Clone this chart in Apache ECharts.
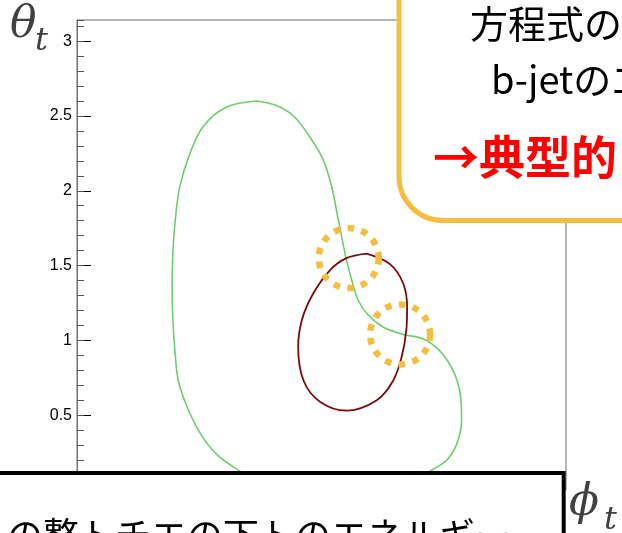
<!DOCTYPE html>
<html>
<head>
<meta charset="utf-8">
<script src="https://cdn.jsdelivr.net/npm/echarts@6.0.0/dist/echarts.min.js"></script>
<style>
  html, body { margin: 0; padding: 0; background: #ffffff; }
  #main { width: 622px; height: 533px; }
</style>
</head>
<body>
<div id="main"></div>
<script>
// theta axis tick labels (radians)
const thetaTickValues = [0, 0.5, 1, 1.5, 2, 2.5, 3];
const thetaTickLabels = ['0', '0.5', '1', '1.5', '2', '2.5', '3'];

// solution contour A (green): [phi_t, theta_t], closed loop
const contourA = [
  [-0.83, 2.60], [-0.58, 2.57], [-0.36, 2.50], [-0.15, 2.36], [0.02, 2.21],
  [0.13, 2.03], [0.20, 1.85], [0.26, 1.69], [0.32, 1.54], [0.39, 1.40],
  [0.47, 1.27], [0.60, 1.17], [0.79, 1.09], [1.05, 1.04], [1.31, 1.01],
  [1.52, 0.93], [1.69, 0.80], [1.78, 0.65], [1.80, 0.47], [1.74, 0.31],
  [1.61, 0.20], [1.44, 0.14], [1.15, 0.06], [0.60, 0.02], [-0.50, 0.02],
  [-0.85, 0.07], [-1.09, 0.14], [-1.35, 0.24], [-1.56, 0.38], [-1.73, 0.56],
  [-1.84, 0.73], [-1.88, 0.91], [-1.91, 1.14], [-1.92, 1.36], [-1.91, 1.58],
  [-1.88, 1.80], [-1.82, 2.03], [-1.69, 2.25], [-1.52, 2.43], [-1.22, 2.56],
  [-0.83, 2.60]
];

// solution contour B (dark red): [phi_t, theta_t], closed loop
const contourB = [
  [0.58, 1.58], [0.88, 1.51], [1.05, 1.38], [1.10, 1.22], [1.09, 1.07],
  [1.03, 0.89], [0.92, 0.73], [0.71, 0.60], [0.32, 0.53], [-0.02, 0.59],
  [-0.23, 0.73], [-0.30, 0.96], [-0.25, 1.14], [-0.11, 1.31], [0.11, 1.47],
  [0.32, 1.55], [0.58, 1.58]
];

// intersection points of the two contours, highlighted with dotted rings
const crossings = [[0.35, 1.55], [1.01, 1.04]];

// slide text
const noteLines = ['方程式の解', 'b-jetのエ', '→典型的'];
const footerText = 'の整トチエの下トのエネルギー';

const chart = echarts.init(document.getElementById('main'), null, { renderer: 'canvas' });

const option = {
  backgroundColor: '#ffffff',
  animation: false,
  grid: {
    left: 77, top: 20, right: 56, bottom: 43,
    show: true, borderColor: '#707070', borderWidth: 1, backgroundColor: 'transparent'
  },
  xAxis: {
    type: 'value', min: -Math.PI, max: Math.PI, show: false
  },
  yAxis: [
    {
      type: 'value', min: 0, max: Math.PI, interval: 0.5, position: 'left',
      axisLine: { show: true, onZero: false, lineStyle: { color: '#707070', width: 1 } },
      axisTick: { show: true, inside: true, length: 14, lineStyle: { color: '#000', width: 1 } },
      axisLabel: {
        show: true, margin: 5, color: '#000', fontSize: 16,
        fontFamily: 'Liberation Sans, Arial, sans-serif',
        showMaxLabel: false,
        formatter: v => {
          const i = thetaTickValues.findIndex(t => Math.abs(t - v) < 1e-6);
          return i >= 0 ? thetaTickLabels[i] : '';
        }
      },
      splitLine: { show: false }
    },
    {
      type: 'value', min: 0, max: Math.PI, interval: 0.1, position: 'left',
      axisLine: { show: false, onZero: false },
      axisTick: { show: true, inside: true, length: 7, lineStyle: { color: '#555', width: 1 } },
      axisLabel: { show: false },
      splitLine: { show: false }
    }
  ],
  series: [
    {
      type: 'line', data: contourA, smooth: 0.35, showSymbol: false,
      lineStyle: { color: '#6ccf6c', width: 1.6 }, z: 3
    },
    {
      type: 'line', data: contourB, smooth: 0.35, showSymbol: false,
      lineStyle: { color: '#7a0a0a', width: 1.8 }, z: 4
    }
  ]
};
chart.setOption(option);

// overlays placed in pixel space
const rings = crossings.map(p => {
  const c = chart.convertToPixel({ gridIndex: 0 }, p);
  return {
    type: 'circle', z: 50,
    shape: { cx: c[0], cy: c[1], r: 30 },
    style: { fill: 'none', stroke: '#F5BD42', lineWidth: 6.5, lineDash: [6.5, 7.5] }
  };
});

const cjk = '"Noto Sans CJK JP", "Noto Sans", sans-serif';

chart.setOption({
  graphic: [
    ...rings,
    // callout box, top right
    {
      type: 'rect', z: 60,
      shape: { x: 399, y: -60, width: 400, height: 280.5, r: 44 },
      style: { fill: '#ffffff', stroke: '#F5BE41', lineWidth: 5 }
    },
    {
      type: 'text', z: 61, x: 470, y: 24,
      style: { text: noteLines[0], fill: '#000', font: '38px ' + cjk, align: 'left', verticalAlign: 'middle' }
    },
    {
      type: 'text', z: 61, x: 491, y: 80,
      style: { text: noteLines[1], fill: '#000', font: '38px ' + cjk, align: 'left', verticalAlign: 'middle' }
    },
    {
      type: 'text', z: 61, x: 433, y: 157,
      style: { text: noteLines[2], fill: '#ff0000', font: 'bold 46px ' + cjk, align: 'left', verticalAlign: 'middle' }
    },
    // footer box, bottom left
    {
      type: 'rect', z: 60,
      shape: { x: -10, y: 473, width: 573.7, height: 120 },
      style: { fill: '#ffffff', stroke: '#000', lineWidth: 4 }
    },
    {
      type: 'text', z: 61, x: 7, y: 517,
      style: { text: footerText, fill: '#000', font: '36px ' + cjk, align: 'left', verticalAlign: 'top' }
    },
    // axis titles
    {
      type: 'text', z: 70, x: 10, y: 48,
      style: { text: 'θ', fill: '#404040', font: 'italic 44px "DejaVu Serif", serif', align: 'left', verticalAlign: 'bottom' }
    },
    {
      type: 'text', z: 70, x: 35, y: 58,
      style: { text: 't', fill: '#404040', font: 'italic 32px "DejaVu Serif", serif', align: 'left', verticalAlign: 'bottom' }
    },
    {
      type: 'text', z: 70, x: 569, y: 526,
      style: { text: 'ϕ', fill: '#404040', font: 'italic 44px "DejaVu Serif", serif', align: 'left', verticalAlign: 'bottom' }
    },
    {
      type: 'text', z: 70, x: 604, y: 537,
      style: { text: 't', fill: '#404040', font: 'italic 32px "DejaVu Serif", serif', align: 'left', verticalAlign: 'bottom' }
    }
  ]
});
</script>
</body>
</html>
